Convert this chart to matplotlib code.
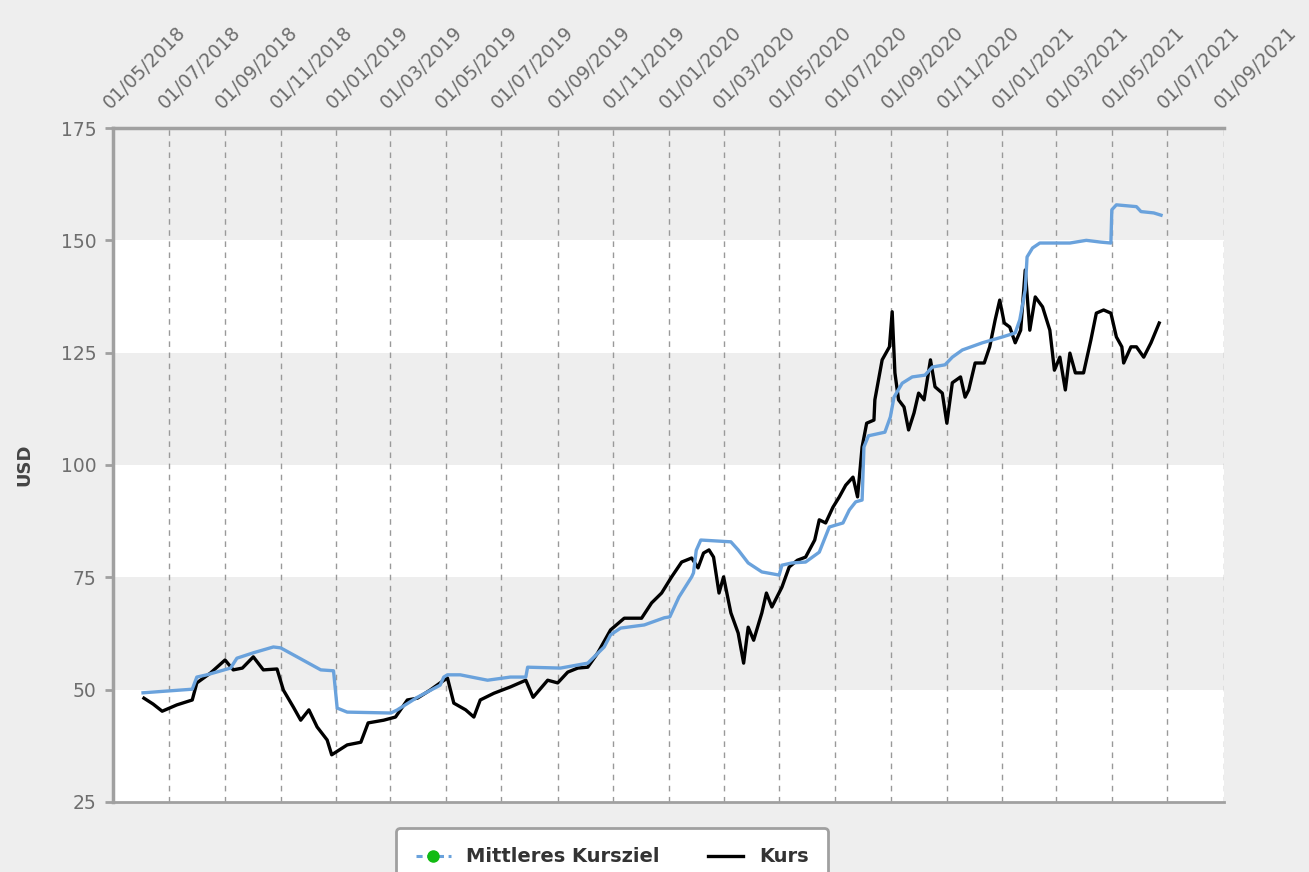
import matplotlib.pyplot as plt
import matplotlib.dates as mdates
import pandas as pd
from matplotlib.lines import Line2D

# Kurs (share price)
kurs_dates = [
    "2018-06-04", "2018-06-14", "2018-06-24", "2018-07-10", "2018-07-27", "2018-08-01",
    "2018-08-16", "2018-09-01", "2018-09-10", "2018-09-20", "2018-10-02", "2018-10-13",
    "2018-10-28", "2018-11-04", "2018-11-15", "2018-11-23", "2018-12-02", "2018-12-11",
    "2018-12-22", "2018-12-27", "2019-01-13", "2019-01-28", "2019-02-05", "2019-02-22",
    "2019-03-07", "2019-03-20", "2019-03-31", "2019-04-14", "2019-04-25", "2019-05-03",
    "2019-05-10", "2019-05-23", "2019-06-01", "2019-06-08", "2019-06-23", "2019-07-11",
    "2019-07-28", "2019-08-05", "2019-08-21", "2019-09-01", "2019-09-12", "2019-09-23",
    "2019-10-04", "2019-10-15", "2019-10-29", "2019-11-13", "2019-12-02", "2019-12-13",
    "2019-12-24", "2020-01-04", "2020-01-15", "2020-01-26", "2020-02-02", "2020-02-08",
    "2020-02-14", "2020-02-19", "2020-02-25", "2020-03-01", "2020-03-09", "2020-03-17",
    "2020-03-23", "2020-03-28", "2020-04-03", "2020-04-12", "2020-04-17", "2020-04-23",
    "2020-05-04", "2020-05-12", "2020-05-21", "2020-05-30", "2020-06-09", "2020-06-14",
    "2020-06-21", "2020-06-29", "2020-07-06", "2020-07-13", "2020-07-21", "2020-07-26",
    "2020-07-31", "2020-08-05", "2020-08-13", "2020-08-14", "2020-08-22", "2020-08-30",
    "2020-09-02", "2020-09-05", "2020-09-09", "2020-09-15", "2020-09-20", "2020-09-26",
    "2020-10-01", "2020-10-07", "2020-10-14", "2020-10-19", "2020-10-27", "2020-11-01",
    "2020-11-07", "2020-11-16", "2020-11-21", "2020-11-25", "2020-12-02", "2020-12-12",
    "2020-12-18", "2020-12-24", "2020-12-29", "2021-01-03", "2021-01-09", "2021-01-15",
    "2021-01-21", "2021-01-26", "2021-01-31", "2021-02-06", "2021-02-14", "2021-02-22",
    "2021-02-27", "2021-03-05", "2021-03-11", "2021-03-16", "2021-03-22", "2021-03-31",
    "2021-04-08", "2021-04-14", "2021-04-22", "2021-04-30", "2021-05-06", "2021-05-12",
    "2021-05-14", "2021-05-22", "2021-05-28", "2021-06-05", "2021-06-13", "2021-06-22",
]
kurs_values = [
    48.1, 46.8, 45.2, 46.6, 47.7, 51.5,
    53.7, 56.6, 54.4, 54.8, 57.3, 54.4,
    54.6, 49.9, 46.1, 43.2, 45.5, 41.7,
    38.8, 35.5, 37.7, 38.3, 42.6, 43.2,
    43.9, 47.7, 48.1, 49.9, 51.5, 52.6,
    47.0, 45.5, 43.9, 47.7, 49.2, 50.6,
    52.1, 48.3, 52.1, 51.5, 53.9, 54.8,
    55.0, 58.2, 63.3, 65.9, 65.9, 69.3,
    71.5, 75.1, 78.4, 79.3, 77.1, 80.4,
    81.1, 79.5, 71.5, 75.1, 67.1, 62.6,
    55.9, 63.9, 61.0, 67.1, 71.5, 68.4,
    72.8, 77.3, 78.8, 79.5, 83.3, 87.8,
    87.1, 90.6, 92.9, 95.5, 97.3, 92.9,
    104.0, 109.3, 110.0, 114.5, 123.4, 126.3,
    134.1, 120.5, 114.5, 112.9, 107.8, 111.6,
    116.0, 114.5, 123.4, 117.4, 116.0, 109.3,
    118.3, 119.6, 115.1, 116.7, 122.7, 122.7,
    126.3, 132.3, 136.7, 131.6, 130.7, 127.2,
    130.0, 143.4, 130.0, 137.4, 135.2, 130.0,
    121.1, 124.0, 116.7, 124.9, 120.5, 120.5,
    127.8, 133.8, 134.5, 133.8, 128.5, 126.3,
    122.7, 126.3, 126.3, 124.0, 127.2, 131.6,
]

# Mittleres Kursziel (average price target)
ziel_dates = [
    "2018-06-03", "2018-07-27", "2018-08-01", "2018-08-12", "2018-09-07", "2018-09-14",
    "2018-10-02", "2018-10-24", "2018-11-01", "2018-11-19", "2018-12-15", "2018-12-29",
    "2019-01-02", "2019-01-13", "2019-03-02", "2019-03-09", "2019-03-31", "2019-04-25",
    "2019-04-29", "2019-05-03", "2019-05-17", "2019-06-16", "2019-07-11", "2019-07-28",
    "2019-07-30", "2019-09-04", "2019-10-04", "2019-10-22", "2019-10-29", "2019-11-09",
    "2019-12-05", "2019-12-27", "2020-01-02", "2020-01-12", "2020-01-26", "2020-01-28",
    "2020-01-31", "2020-02-05", "2020-03-09", "2020-03-17", "2020-03-28", "2020-04-12",
    "2020-05-01", "2020-05-04", "2020-05-15", "2020-05-30", "2020-06-14", "2020-06-25",
    "2020-07-10", "2020-07-17", "2020-07-24", "2020-07-31", "2020-08-02", "2020-08-07",
    "2020-08-25", "2020-08-31", "2020-09-04", "2020-09-13", "2020-09-24", "2020-10-08",
    "2020-10-16", "2020-10-30", "2020-11-07", "2020-11-18", "2020-12-10", "2021-01-01",
    "2021-01-15", "2021-01-20", "2021-01-26", "2021-01-28", "2021-02-03", "2021-02-11",
    "2021-03-16", "2021-04-03", "2021-04-19", "2021-04-30", "2021-05-01", "2021-05-06",
    "2021-05-28", "2021-06-02", "2021-06-16", "2021-06-24",
]
ziel_values = [
    49.3, 50.1, 52.8, 53.3, 54.8, 57.0,
    58.2, 59.5, 59.3, 57.3, 54.4, 54.2,
    45.9, 45.0, 44.8, 45.5, 48.3, 51.0,
    52.8, 53.3, 53.3, 52.1, 52.8, 52.8,
    55.0, 54.8, 55.9, 59.5, 62.2, 63.7,
    64.4, 66.0, 66.2, 70.6, 75.1, 76.0,
    81.0, 83.3, 82.9, 81.1, 78.2, 76.2,
    75.5, 77.7, 78.2, 78.4, 80.6, 86.2,
    87.1, 90.0, 91.8, 92.2, 104.0, 106.5,
    107.3, 110.7, 115.1, 118.2, 119.6, 120.0,
    121.8, 122.3, 124.0, 125.6, 127.2, 128.5,
    129.4, 132.3, 139.0, 146.3, 148.3, 149.4,
    149.4, 150.0, 149.6, 149.4, 156.8, 157.9,
    157.5, 156.4, 156.1, 155.6,
]

y_ticks = [25, 50, 75, 100, 125, 150, 175]
white_bands = [(25, 50), (75, 100), (125, 150)]

bg = "#eeeeee"
axis_gray = "#a0a0a0"
text_gray = "#6e6e6e"

fig = plt.figure(figsize=(13.09, 8.72), dpi=100, facecolor=bg)
ax = fig.add_axes([0.0863, 0.0803, 0.8487, 0.7729])
ax.set_facecolor(bg)

for lo, hi in white_bands:
    ax.axhspan(lo, hi, color="white", zorder=0, lw=0)

ax.plot(pd.to_datetime(kurs_dates), kurs_values, color="black", lw=2.4, zorder=3)
ax.plot(pd.to_datetime(ziel_dates), ziel_values, color="#6aa2dc", lw=2.4, zorder=4)

ax.set_xlim(pd.Timestamp("2018-05-01"), pd.Timestamp("2021-09-01"))
ax.set_ylim(25, 175)
ax.set_yticks(y_ticks)

ax.xaxis.set_major_locator(mdates.MonthLocator(bymonth=[1, 3, 5, 7, 9, 11]))
ax.xaxis.set_major_formatter(mdates.DateFormatter("%d/%m/%Y"))
ax.xaxis.tick_top()
ax.tick_params(axis="x", which="major", length=0, pad=11, labelsize=13.5, colors=text_gray)
ax.tick_params(axis="y", length=6, width=2, color=axis_gray, labelsize=13.5,
               labelcolor=text_gray, pad=6)
for lbl in ax.get_xticklabels():
    lbl.set_rotation(45)
    lbl.set_ha("left")
    lbl.set_va("bottom")
    lbl.set_rotation_mode("anchor")

ax.grid(axis="x", color="#999999", ls=(0, (4, 4)), lw=1)
ax.set_axisbelow(True)

for side in ["left", "top"]:
    ax.spines[side].set_color(axis_gray)
    ax.spines[side].set_linewidth(2.5)
ax.spines["bottom"].set_color(axis_gray)
ax.spines["bottom"].set_linewidth(2)
ax.spines["right"].set_visible(False)

ax.set_ylabel("USD", fontsize=13, fontweight="bold", color="#444444", labelpad=20)

handles = [
    Line2D([], [], color="#6aa2dc", ls=(0, (2, 1.5)), lw=2.2, marker="o",
           markersize=8, markerfacecolor="#11bb11", markeredgecolor="#11bb11"),
    Line2D([], [], color="black", lw=2.4),
]
leg = fig.legend(handles, ["Mittleres Kursziel", "Kurs"], loc="upper center",
                 bbox_to_anchor=(0.4675, 0.0505), borderaxespad=0, ncol=2,
                 frameon=True, fancybox=True, prop={"weight": "bold", "size": 14},
                 handlelength=1.8, columnspacing=2.5, borderpad=1.0)
leg.get_frame().set_edgecolor(axis_gray)
leg.get_frame().set_linewidth(2)
leg.get_frame().set_alpha(1)
for t in leg.get_texts():
    t.set_color("#333333")

fig.savefig("out.png", dpi=100, facecolor=bg)
